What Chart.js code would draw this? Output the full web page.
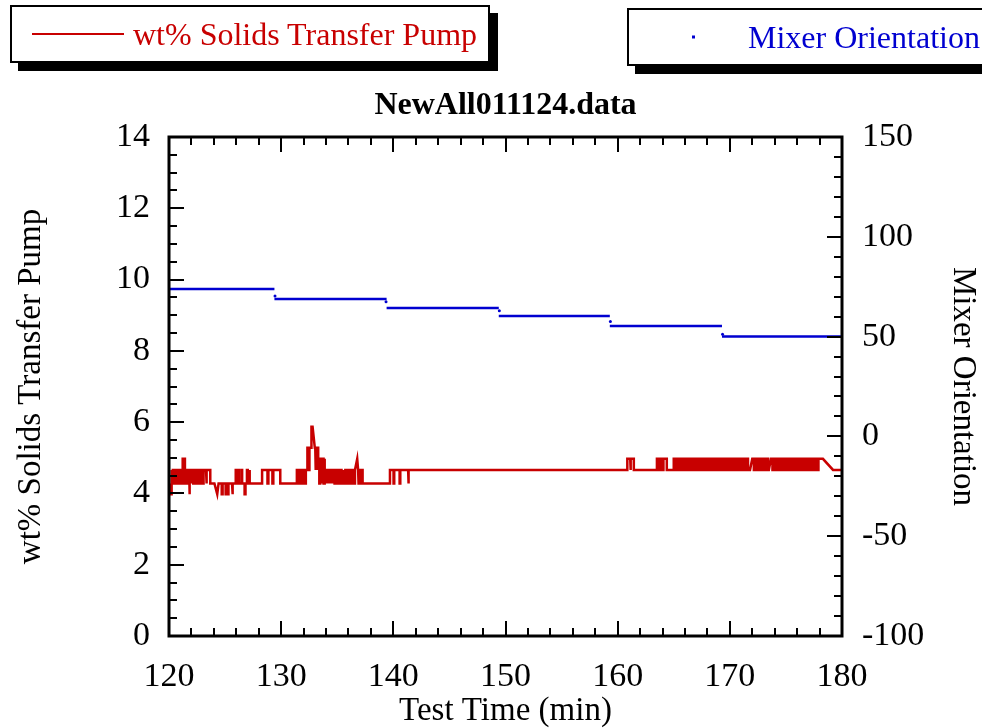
<!DOCTYPE html>
<html>
<head>
<meta charset="utf-8">
<title>NewAll011124.data</title>
<script src="https://cdn.jsdelivr.net/npm/chart.js@4.4.1/dist/chart.umd.min.js"></script>
<style>
  html, body { margin: 0; padding: 0; background: #ffffff; overflow: hidden; }
  #page { position: relative; width: 982px; height: 728px; overflow: hidden;
          font-family: "Liberation Serif", "Times New Roman", serif; }
  #plot { position: absolute; left: 0; top: 0; }
  .legend-box { position: absolute; box-sizing: border-box; height: 58px; background: #ffffff;
                border: 2px solid #000000; box-shadow: 8px 8px 0 #000000; }
  .legend-box span { position: absolute; top: 50%; transform: translateY(-50%);
                     font-size: 32px; line-height: 1; white-space: nowrap; }
  #title { position: absolute; left: 169px; width: 673px; top: 84px; text-align: center;
           font-weight: bold; font-size: 32px; line-height: 38px; color: #000000; }
</style>
</head>
<body>
<div id="page">
  <canvas id="plot" width="982" height="728"></canvas>
  <div id="title">NewAll011124.data</div>
  <div class="legend-box" style="left:10px;top:5px;width:480px;">
    <span style="left:20px;width:92px;height:2px;background:#c80000;"></span>
    <span style="left:121px;color:#c80000;">wt% Solids Transfer Pump</span>
  </div>
  <div class="legend-box" style="left:627px;top:8px;width:420px;">
    <span style="left:63px;width:3px;height:3px;background:#0000d0;"></span>
    <span style="left:119px;color:#0000d0;">Mixer Orientation</span>
  </div>
</div>
<script>
// Axis tick labels
const timeTicks = [120, 130, 140, 150, 160, 170, 180];
const wtTicks = [0, 2, 4, 6, 8, 10, 12, 14];
const degTicks = [-100, -50, 0, 50, 100, 150];
const timeMinorStep = 2;
const wtMinorStep = 0.5;
const degMinorStep = 10;

// wt% solids at the transfer pump: [test time (min), wt%]
// (a reading that flips between two levels is logged as two samples at the same time)
const pumpSolids = [
  [120.00,4.28],[120.05,3.98],[120.18,3.98],[120.18,4.66],[120.26,4.66],[120.26,4.28],[120.34,4.28],[120.34,4.66],
  [120.44,4.66],[120.44,4.28],[120.50,4.28],[120.50,4.66],[120.62,4.66],[120.62,4.28],[120.70,4.28],[120.70,4.66],
  [120.80,4.66],[120.80,4.28],[120.86,4.28],[120.86,4.66],[120.98,4.66],[120.98,4.28],[121.05,4.28],[121.05,4.66],
  [121.15,4.66],[121.15,4.28],[121.22,4.28],[121.22,4.97],[121.42,4.97],[121.42,4.28],[121.50,4.28],[121.50,4.66],
  [121.62,4.66],[121.62,4.28],[121.70,4.28],[121.70,4.66],[121.80,4.66],[121.80,3.98],[121.86,3.98],[121.86,4.66],
  [121.98,4.66],[121.98,4.28],[122.05,4.28],[122.05,4.66],[122.16,4.66],[122.16,4.28],[122.24,4.28],[122.24,4.66],
  [122.36,4.66],[122.36,4.28],[122.42,4.28],[122.42,4.66],[122.54,4.66],[122.54,4.28],[122.62,4.28],[122.62,4.66],
  [122.78,4.66],[122.78,4.28],[122.86,4.28],[122.86,4.66],[123.02,4.66],[123.02,4.28],[123.08,4.28],[123.08,4.66],
  [123.30,4.66],[123.30,4.28],[123.38,4.28],[123.38,4.66],[123.68,4.66],[123.68,4.28],
  [124.05,4.28],[124.30,3.98],[124.42,4.28],[124.70,4.28],[124.70,3.98],[124.78,3.98],[124.78,4.28],[125.05,4.28],
  [125.05,3.98],[125.12,3.98],[125.12,4.28],[125.25,4.28],[125.25,3.98],[125.30,3.98],[125.30,4.28],[125.62,4.28],
  [125.62,3.98],[125.70,3.98],[125.70,4.28],[125.95,4.28],[125.95,4.66],[126.02,4.66],[126.02,4.28],[126.15,4.28],
  [126.15,4.66],[126.22,4.66],[126.22,4.28],[126.45,4.28],[126.45,4.66],[126.52,4.66],[126.52,4.28],[126.74,4.28],
  [126.74,3.98],[126.82,3.98],[126.82,4.28],[126.95,4.28],[126.95,4.66],[127.02,4.66],[127.02,4.28],[127.14,4.28],
  [127.14,4.66],[127.22,4.66],[127.22,4.28],
  [128.30,4.28],[128.30,4.66],[128.78,4.66],[128.78,4.28],[128.86,4.28],[128.86,4.66],[129.22,4.66],[129.22,4.28],
  [129.30,4.28],[129.30,4.66],[129.92,4.66],[129.92,4.28],
  [131.40,4.28],[131.40,4.66],[131.50,4.66],[131.50,4.28],[131.58,4.28],[131.58,4.66],[131.70,4.66],[131.70,4.28],
  [131.78,4.28],[131.78,4.66],[131.92,4.66],[131.92,4.28],[132.00,4.28],[132.00,4.66],[132.12,4.66],[132.12,4.28],
  [132.20,4.28],[132.20,4.66],[132.34,4.66],[132.34,5.28],[132.44,5.28],[132.44,4.66],[132.52,4.66],[132.52,5.28],
  [132.68,5.28],[132.70,5.87],[132.80,5.87],[133.00,5.28],[133.04,5.28],[133.04,4.66],[133.10,4.66],[133.10,5.28],
  [133.20,5.28],[133.20,4.66],[133.26,4.66],[133.26,5.28],[133.30,5.28],[133.30,4.97],[133.40,4.97],[133.40,4.28],
  [133.48,4.28],[133.48,4.97],[133.58,4.97],[133.58,4.28],[133.64,4.28],[133.64,4.97],[133.78,4.97],[133.78,4.28],
  [133.84,4.28],[133.84,4.97],[133.90,4.97],[133.90,4.66],
  [134.00,4.66],[134.00,4.28],[134.06,4.28],[134.06,4.66],[134.18,4.66],[134.18,4.28],[134.24,4.28],[134.24,4.66],
  [134.36,4.66],[134.36,4.28],[134.42,4.28],[134.42,4.66],[134.56,4.66],[134.56,4.28],[134.62,4.28],[134.62,4.66],
  [134.76,4.66],[134.76,4.28],[134.84,4.28],[134.84,4.66],[134.98,4.66],[134.98,4.28],[135.10,4.28],[135.10,4.66],
  [135.18,4.66],[135.18,4.28],[135.30,4.28],[135.30,4.66],[135.38,4.66],[135.38,4.28],[135.52,4.28],[135.52,4.66],
  [135.60,4.66],[135.60,4.28],[135.72,4.28],[135.72,4.66],[135.80,4.66],[135.80,4.28],[135.94,4.28],[135.94,4.66],
  [136.02,4.66],[136.02,4.28],[136.16,4.28],[136.16,4.66],[136.24,4.66],[136.24,4.28],[136.38,4.28],[136.38,4.66],
  [136.48,4.66],[136.48,4.28],[136.58,4.28],[136.58,4.66],[136.78,4.97],[136.86,4.66],[136.90,4.66],[136.90,4.28],
  [136.98,4.28],[136.98,4.66],[137.08,4.66],[137.08,4.28],[137.16,4.28],[137.16,4.66],[137.26,4.66],[137.26,4.28],
  [139.70,4.28],[139.70,4.66],[140.02,4.66],[140.02,4.28],[140.08,4.28],[140.08,4.66],[140.56,4.66],[140.56,4.28],
  [140.62,4.28],[140.62,4.66],[141.32,4.66],[141.32,4.28],[141.38,4.28],[141.38,4.66],
  [160.86,4.66],[160.86,4.97],[161.12,4.97],[161.12,4.66],[161.18,4.66],[161.18,4.97],[161.44,4.97],[161.44,4.66],
  [163.50,4.66],[163.50,4.97],[163.72,4.97],[163.72,4.66],[163.80,4.66],[163.80,4.97],[164.02,4.97],[164.02,4.66],
  [164.08,4.66],[164.08,4.97],[164.38,4.97],[164.38,4.66],[165.00,4.66],[165.00,4.97],[165.16,4.97],[165.16,4.66],
  [165.24,4.66],[165.24,4.97],[165.42,4.97],[165.42,4.66],
  [165.64,4.66],[165.64,4.97],[165.80,4.97],[165.80,4.66],[165.90,4.66],[165.90,4.97],[166.06,4.97],[166.06,4.66],
  [166.16,4.66],[166.16,4.97],[166.32,4.97],[166.32,4.66],[166.42,4.66],[166.42,4.97],[166.56,4.97],[166.56,4.66],
  [166.66,4.66],[166.66,4.97],[166.84,4.97],[166.84,4.66],[166.94,4.66],[166.94,4.97],[167.08,4.97],[167.08,4.66],
  [167.18,4.66],[167.18,4.97],[167.34,4.97],[167.34,4.66],[167.44,4.66],[167.44,4.97],[167.60,4.97],[167.60,4.66],
  [167.70,4.66],[167.70,4.97],[167.84,4.97],[167.84,4.66],[167.94,4.66],[167.94,4.97],[168.10,4.97],[168.10,4.66],
  [168.20,4.66],[168.20,4.97],[168.36,4.97],[168.36,4.66],[168.46,4.66],[168.46,4.97],[168.60,4.97],[168.60,4.66],
  [168.70,4.66],[168.70,4.97],[168.86,4.97],[168.86,4.66],[168.96,4.66],[168.96,4.97],[169.12,4.97],[169.12,4.66],
  [169.22,4.66],[169.22,4.97],[169.36,4.97],[169.36,4.66],[169.46,4.66],[169.46,4.97],[169.62,4.97],[169.62,4.66],
  [169.72,4.66],[169.72,4.97],[169.88,4.97],[169.88,4.66],[169.98,4.66],[169.98,4.97],[170.12,4.97],[170.12,4.66],
  [170.22,4.66],[170.22,4.97],[170.38,4.97],[170.38,4.66],[170.48,4.66],[170.48,4.97],[170.62,4.97],[170.62,4.66],
  [170.72,4.66],[170.72,4.97],[170.88,4.97],[170.88,4.66],[170.98,4.66],[170.98,4.97],[171.14,4.97],[171.14,4.66],
  [171.24,4.66],[171.24,4.97],[171.38,4.97],[171.38,4.66],[171.48,4.66],[171.48,4.97],[171.62,4.97],[171.62,4.66],
  [171.80,4.66],[172.00,4.97],[172.14,4.97],[172.14,4.66],[172.24,4.66],[172.24,4.97],[172.40,4.97],[172.40,4.66],
  [172.50,4.66],[172.50,4.97],[172.64,4.97],[172.64,4.66],[172.74,4.66],[172.74,4.97],[172.90,4.97],[172.90,4.66],
  [173.00,4.66],[173.00,4.97],[173.14,4.97],[173.14,4.66],[173.24,4.66],[173.24,4.97],[173.40,4.97],[173.40,4.66],
  [173.48,4.66],[173.66,4.97],[173.80,4.97],[173.80,4.66],[173.90,4.66],[173.90,4.97],[174.06,4.97],[174.06,4.66],
  [174.16,4.66],[174.16,4.97],[174.30,4.97],[174.30,4.66],[174.40,4.66],[174.40,4.97],[174.56,4.97],[174.56,4.66],
  [174.66,4.66],[174.66,4.97],[174.80,4.97],[174.80,4.66],[174.90,4.66],[174.90,4.97],[175.06,4.97],[175.06,4.66],
  [175.16,4.66],[175.16,4.97],[175.30,4.97],[175.30,4.66],[175.40,4.66],[175.40,4.97],[175.56,4.97],[175.56,4.66],
  [175.66,4.66],[175.66,4.97],[175.80,4.97],[175.80,4.66],[175.90,4.66],[175.90,4.97],[176.06,4.97],[176.06,4.66],
  [176.16,4.66],[176.16,4.97],[176.30,4.97],[176.30,4.66],[176.40,4.66],[176.40,4.97],[176.56,4.97],[176.56,4.66],
  [176.66,4.66],[176.66,4.97],[176.80,4.97],[176.80,4.66],[176.90,4.66],[176.90,4.97],[177.06,4.97],[177.06,4.66],
  [177.16,4.66],[177.16,4.97],[177.30,4.97],[177.30,4.66],[177.40,4.66],[177.40,4.97],[177.56,4.97],[177.56,4.66],
  [177.66,4.66],[177.66,4.97],[177.80,4.97],[177.80,4.66],[177.90,4.66],[177.90,4.97],[178.30,4.97],[179.20,4.66],
  [180.00,4.66]
];

// Mixer orientation (deg): held set-points between step times
const mixerStepStart = [120.0, 129.4, 139.4, 149.4, 159.3, 169.3];
const mixerStepEnd   = [129.4, 139.4, 149.4, 159.3, 169.3, 180.0];
const mixerDeg       = [73.8, 68.8, 64.3, 60.3, 55.3, 50.0];
// single readings logged while the mixer was moving between set-points
const mixerMoveTime  = [129.45, 139.35, 149.45, 159.35, 169.35];
const mixerMoveDeg   = [70.3, 67.5, 63.0, 57.6, 51.2];

const RED = '#c80000';
const BLUE = '#0000d0';
const FAMILY = '"Liberation Serif", "Times New Roman", serif';
const TICK_FONT = { family: FAMILY, size: 34 };
const TITLE_FONT = { family: FAMILY, size: 33 };

const mixerLine = [];
mixerDeg.forEach((deg, i) => {
  mixerLine.push({ x: mixerStepStart[i], y: deg });
  mixerLine.push({ x: mixerStepEnd[i], y: deg });
  mixerLine.push({ x: mixerStepEnd[i], y: null });
});
const mixerMoves = mixerMoveTime.map((t, i) => ({ x: t, y: mixerMoveDeg[i] }));

// Plot frame plus inward major/minor tick marks on all four sides
const frameAndTicks = {
  id: 'frameAndTicks',
  afterDatasetsDraw(chart) {
    const { ctx, chartArea: a, scales } = chart;
    const MAJOR = 15, MINOR = 8;
    const seg = (x1, y1, x2, y2) => { ctx.beginPath(); ctx.moveTo(x1, y1); ctx.lineTo(x2, y2); ctx.stroke(); };
    const near = (v, list) => list.some(m => Math.abs(m - v) < 1e-6);
    ctx.save();
    ctx.strokeStyle = '#000000';
    ctx.lineCap = 'butt';
    ctx.lineWidth = 2;

    const xs = scales.x;
    for (let v = timeTicks[0]; v <= timeTicks[timeTicks.length - 1] + 1e-9; v += timeMinorStep) {
      const px = Math.round(xs.getPixelForValue(v));
      const len = near(v, timeTicks) ? MAJOR : MINOR;
      seg(px, a.bottom, px, a.bottom - len);
      seg(px, a.top, px, a.top + len);
    }
    const yl = scales.y;
    for (let v = wtTicks[0]; v <= wtTicks[wtTicks.length - 1] + 1e-9; v += wtMinorStep) {
      const py = Math.round(yl.getPixelForValue(v));
      const len = near(v, wtTicks) ? MAJOR : MINOR;
      seg(a.left, py, a.left + len, py);
    }
    const yr = scales.y2;
    for (let v = degTicks[0]; v <= degTicks[degTicks.length - 1] + 1e-9; v += degMinorStep) {
      const py = Math.round(yr.getPixelForValue(v));
      const len = near(v, degTicks) ? MAJOR : MINOR;
      seg(a.right, py, a.right - len, py);
    }

    ctx.lineWidth = 3;
    ctx.strokeRect(a.left, a.top, a.right - a.left, a.bottom - a.top);
    ctx.restore();
  }
};

const fixedTicks = list => scale => { scale.ticks = list.map(v => ({ value: v })); };

new Chart(document.getElementById('plot'), {
  type: 'line',
  data: {
    datasets: [
      {
        label: 'wt% Solids Transfer Pump',
        data: pumpSolids.map(([t, w]) => ({ x: t, y: w })),
        yAxisID: 'y',
        borderColor: RED,
        borderWidth: 2.5,
        pointRadius: 0,
        tension: 0,
        fill: false
      },
      {
        label: 'Mixer Orientation',
        data: mixerLine,
        yAxisID: 'y2',
        borderColor: BLUE,
        borderWidth: 2.5,
        pointRadius: 0,
        spanGaps: false,
        fill: false
      },
      {
        label: 'Mixer Orientation',
        data: mixerMoves,
        yAxisID: 'y2',
        showLine: false,
        pointRadius: 1.5,
        pointBorderWidth: 0,
        pointBackgroundColor: BLUE
      }
    ]
  },
  options: {
    responsive: false,
    animation: false,
    devicePixelRatio: 1,
    events: [],
    layout: { padding: { top: 137, left: 0, right: 0, bottom: 0 } },
    plugins: { legend: { display: false }, title: { display: false }, tooltip: { enabled: false } },
    scales: {
      x: {
        type: 'linear', position: 'bottom', min: 120, max: 180,
        afterBuildTicks: fixedTicks(timeTicks),
        afterFit: s => { s.height = 92; },
        grid: { display: false }, border: { display: false },
        ticks: { font: TICK_FONT, color: '#000000', padding: 13, maxRotation: 0, autoSkip: false },
        title: { display: true, text: 'Test Time (min)', font: TITLE_FONT, color: '#000000', padding: { top: 0, bottom: -3 } }
      },
      y: {
        type: 'linear', position: 'left', min: 0, max: 14,
        afterBuildTicks: fixedTicks(wtTicks),
        afterFit: s => { s.width = 169; },
        grid: { display: false }, border: { display: false },
        ticks: { font: TICK_FONT, color: '#000000', padding: 11, autoSkip: false },
        title: { display: true, text: 'wt% Solids Transfer Pump', font: TITLE_FONT, color: '#000000', padding: { top: 12, bottom: 0 } }
      },
      y2: {
        type: 'linear', position: 'right', min: -100, max: 150,
        afterBuildTicks: fixedTicks(degTicks),
        afterFit: s => { s.width = 140; },
        grid: { display: false }, border: { display: false },
        ticks: { font: TICK_FONT, color: '#000000', padding: 12, autoSkip: false },
        title: { display: true, text: 'Mixer Orientation', font: TITLE_FONT, color: '#000000', padding: { top: 0, bottom: 0 } }
      }
    }
  },
  plugins: [frameAndTicks]
});
</script>
</body>
</html>
